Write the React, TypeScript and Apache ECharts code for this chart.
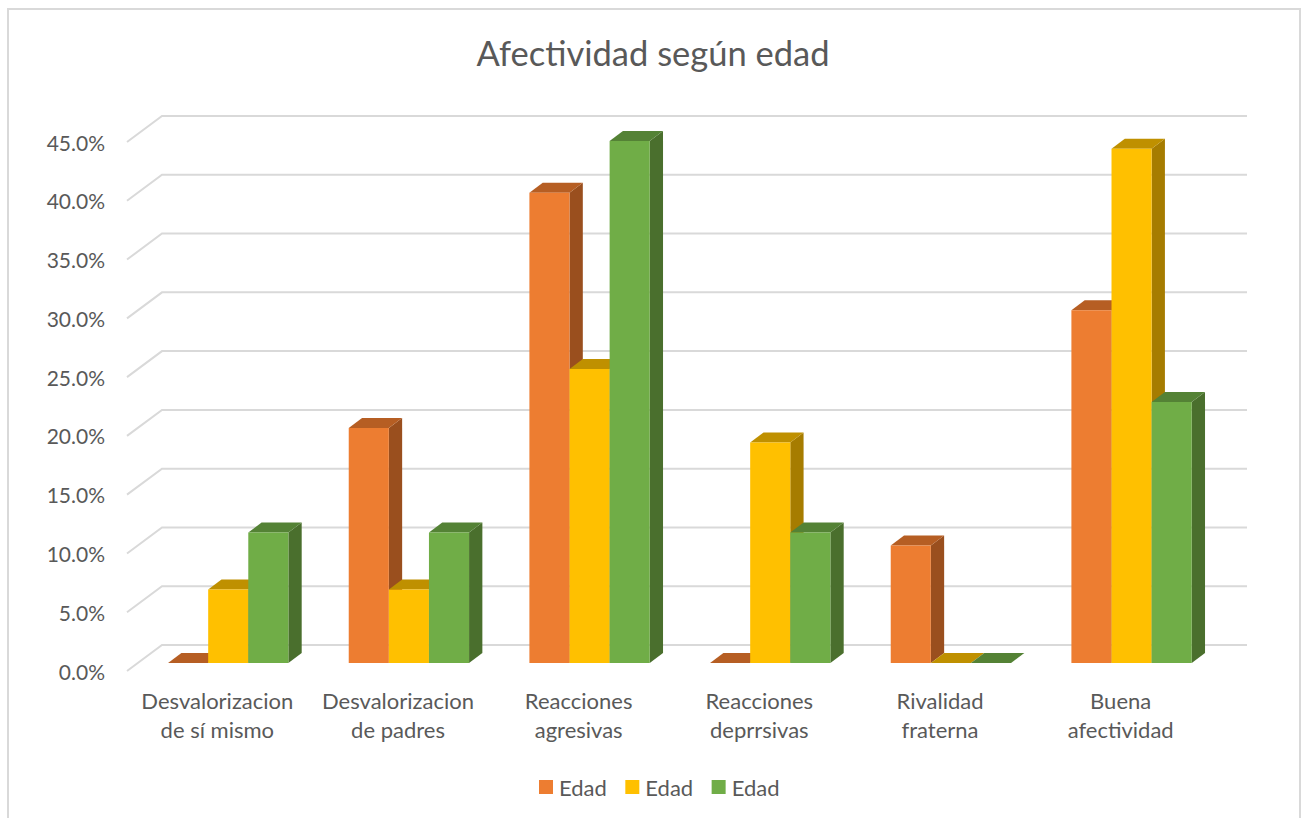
import React, { useEffect, useRef } from "react";
import * as echarts from "echarts";

const categories = [
  "Desvalorizacion\nde sí mismo",
  "Desvalorizacion\nde padres",
  "Reacciones\nagresivas",
  "Reacciones\ndeprrsivas",
  "Rivalidad\nfraterna",
  "Buena\nafectividad",
];
const seriesA = [0, 20, 40, 0, 10, 30];
const seriesB = [6.25, 6.25, 25, 18.75, 0, 43.75];
const seriesC = [11.1, 11.1, 44.4, 11.1, 0, 22.2];
const ticks = [0, 5, 10, 15, 20, 25, 30, 35, 40, 45];
const legendLabel = "Edad";
const titleText = "Afectividad según edad";

const FONT = "Lato, 'Noto Sans', sans-serif";
const TEXT = "#595959";
const GRID = "#d9d9d9";

// Oblique projection of the 3-D chart
const WALL_DX = 35;
const WALL_DY = 26;
const BAR_DX = 13.3;
const BAR_DY = 10;
const FRONT_LIFT = 8;
const GROUP_SHIFT = 10.9;
const BAR_RATIO = 0.222;

function gridRender(params: any, api: any) {
  const cs = params.coordSys;
  const y = api.coord([0, api.value(1)])[1];
  return {
    type: "polyline",
    silent: true,
    shape: {
      points: [
        [cs.x, y],
        [cs.x + WALL_DX, y - WALL_DY],
        [cs.x + cs.width + WALL_DX + 1, y - WALL_DY],
      ],
    },
    style: { stroke: GRID, lineWidth: 2, fill: "none" },
  };
}

function barRender(slot: number, front: string, top: string, side: string) {
  return (params: any, api: any) => {
    const cat = api.value(0);
    const [cx, y0] = api.coord([cat, 0]);
    const [, yv] = api.coord([cat, api.value(1)]);
    const w = api.size([1, 0])[0] * BAR_RATIO;
    const x0 = cx + GROUP_SHIFT + (slot - 1.5) * w;
    const x1 = x0 + w;
    const base = y0 - FRONT_LIFT;
    const t = yv - FRONT_LIFT;
    const children: any[] = [
      {
        type: "polygon",
        shape: { points: [[x1, base], [x1 + BAR_DX, base - BAR_DY], [x1 + BAR_DX, t - BAR_DY], [x1, t]] },
        style: { fill: side },
      },
      {
        type: "polygon",
        shape: { points: [[x0, t], [x0 + BAR_DX, t - BAR_DY], [x1 + BAR_DX, t - BAR_DY], [x1, t]] },
        style: { fill: top },
      },
      {
        type: "rect",
        shape: { x: x0, y: t, width: w, height: base - t },
        style: { fill: front },
      },
    ];
    return { type: "group", children };
  };
}

const pairs = (vals: number[]) => vals.map((v, i) => [i, v]);

export default function App() {
  const ref = useRef<HTMLDivElement>(null);
  useEffect(() => {
    const chart = echarts.init(ref.current!, undefined, { renderer: "svg" });
    chart.setOption({
      animation: false,
      backgroundColor: "#ffffff",
      title: {
        text: titleText,
        left: "center",
        top: 30,
        textStyle: { fontFamily: FONT, fontSize: 34.5, fontWeight: "normal", color: TEXT },
      },
      legend: {
        data: ["Edad 1", "Edad 2", "Edad 3"],
        formatter: () => legendLabel,
        left: 539,
        top: 776,
        icon: "rect",
        itemWidth: 14,
        itemHeight: 14,
        itemGap: 18.5,
        padding: 0,
        selectedMode: false,
        textStyle: { fontFamily: FONT, fontSize: 22, color: TEXT, padding: [0, 0, 8, 1] },
      },
      grid: { left: 127, top: 142, width: 1084, height: 529 },
      xAxis: {
        type: "category",
        data: categories,
        axisLine: { show: false },
        axisTick: { show: false },
        splitLine: { show: false },
        axisLabel: {
          interval: 0,
          margin: 15,
          fontFamily: FONT,
          fontSize: 22,
          lineHeight: 29,
          color: TEXT,
          align: "center",
        },
      },
      yAxis: {
        type: "value",
        min: 0,
        max: 45,
        interval: 5,
        axisLine: { show: false },
        axisTick: { show: false },
        splitLine: { show: false },
        axisLabel: {
          margin: 22,
          fontFamily: FONT,
          fontSize: 21,
          color: TEXT,
          formatter: (v: number) => v.toFixed(1) + "%",
        },
      },
      graphic: [
        {
          type: "polyline",
          silent: true,
          shape: { points: [[8, 818], [8, 9], [1300, 9], [1300, 818]] },
          style: { stroke: GRID, lineWidth: 2, fill: "none" },
        },
      ],
      series: [
        {
          type: "custom",
          name: "grid",
          silent: true,
          clip: false,
          renderItem: gridRender,
          encode: { x: 0, y: 1 },
          data: ticks.map((t) => [0, t]),
          z: 1,
        },
        {
          type: "custom",
          name: "Edad 1",
          clip: false,
          renderItem: barRender(0, "#ED7D31", "#B65E23", "#9A4F1E"),
          encode: { x: 0, y: 1 },
          itemStyle: { color: "#ED7D31" },
          data: pairs(seriesA),
          z: 2,
        },
        {
          type: "custom",
          name: "Edad 2",
          clip: false,
          renderItem: barRender(1, "#FFC000", "#BF9000", "#A67C00"),
          encode: { x: 0, y: 1 },
          itemStyle: { color: "#FFC000" },
          data: pairs(seriesB),
          z: 3,
        },
        {
          type: "custom",
          name: "Edad 3",
          clip: false,
          renderItem: barRender(2, "#70AD47", "#548235", "#4A6F2D"),
          encode: { x: 0, y: 1 },
          itemStyle: { color: "#70AD47" },
          data: pairs(seriesC),
          z: 4,
        },
      ],
    });
    return () => chart.dispose();
  }, []);
  return (
    <div
      ref={ref}
      style={{ position: "fixed", left: 0, top: 0, width: 1306, height: 818, background: "#fff" }}
    />
  );
}
